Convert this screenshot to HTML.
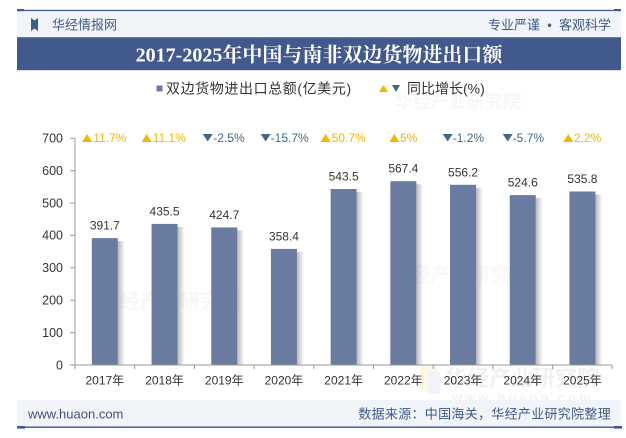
<!DOCTYPE html>
<html>
<head>
<meta charset="utf-8">
<style>
  html,body{margin:0;padding:0;background:#fff;}
  body{width:626px;height:438px;overflow:hidden;}
  svg{display:block;}
  .cjk{font-family:"Liberation Sans","Noto Sans CJK SC",sans-serif;}
  .num{font-family:"Liberation Sans","Noto Sans CJK SC",sans-serif;font-size:12px;fill:#333;}
</style>
</head>
<body>
<svg width="626" height="438" viewBox="0 0 626 438" xmlns="http://www.w3.org/2000/svg">
  <defs>
    <linearGradient id="sh" x1="0" y1="0" x2="1" y2="0">
      <stop offset="0" stop-color="#000" stop-opacity="0.28"/>
      <stop offset="1" stop-color="#000" stop-opacity="0"/>
    </linearGradient>
  </defs>
  <rect x="0" y="0" width="626" height="438" fill="#fff"/>

  <!-- watermarks -->
  <g opacity="0.45">
    <text x="445" y="386" class="cjk" font-size="22" font-weight="bold" fill="#e2e2e2">华经产业研究院</text>
    <text x="452" y="402" font-family="Liberation Sans, sans-serif" font-size="13" font-weight="bold" letter-spacing="3" fill="#e4e4e4">www.huaon.com</text>
    <rect x="420" y="365" width="18" height="26" fill="#fbefc8"/>
    <rect x="428" y="372" width="12" height="22" fill="#dfe8f4"/>
    <text x="395" y="108" class="cjk" font-size="18" font-weight="bold" fill="#eeeeee">华经产业研究院</text>
    <text x="100" y="308" class="cjk" font-size="20" font-weight="bold" fill="#eeeeee">华经产业研究院</text>
    <text x="390" y="282" class="cjk" font-size="20" font-weight="bold" fill="#f0f0f0">华经产业研究院</text>
  </g>

  <!-- top rule -->
  <rect x="17" y="9.8" width="604" height="1.4" fill="#3f5a8e"/>
  <rect x="17" y="9" width="7" height="3" fill="#3f5a8e"/>
  <rect x="614" y="9" width="7" height="3" fill="#3f5a8e"/>
  <!-- header band -->
  <rect x="17" y="11.2" width="604" height="26" fill="#f1f4f9"/>
  <path d="M31,18 L34.5,20.5 L38,18 L38,31 L34.5,28.5 L31,31 Z" fill="#3f5a8e"/>
  <text x="52" y="29.5" class="cjk" font-size="13" fill="#3f5a8e">华经情报网</text>
  <text x="611" y="29.5" class="cjk" font-size="13" fill="#3f5a8e" text-anchor="end" style="white-space:pre" xml:space="preserve">专业严谨  •  客观科学</text>
  <!-- title band -->
  <rect x="17" y="37.2" width="604" height="33" fill="#41598c"/>
  <text x="319" y="61.5" font-family="Liberation Serif, 'Noto Serif CJK SC', serif" font-size="20" font-weight="bold" fill="#fff" text-anchor="middle">2017-2025年中国与南非双边货物进出口额</text>

  <!-- legend -->
  <rect x="156.5" y="85.5" width="6" height="6" fill="#6a7ba2"/>
  <text x="166" y="93.5" class="cjk" font-size="14" letter-spacing="0.6" fill="#333">双边货物进出口总额(亿美元)</text>
  <polygon points="379,92 383.5,85 388,92" fill="#f5b400"/>
  <polygon points="392,85 400,85 396,92" fill="#3f6985"/>
  <text x="407" y="93.5" class="cjk" font-size="14" fill="#333">同比增长(%)</text>

  <!-- y axis -->
  <g stroke="#999" stroke-width="1">
    <line x1="75" y1="138" x2="75" y2="365"/>
    <line x1="70" y1="365" x2="75" y2="365"/>
    <line x1="70" y1="332.6" x2="75" y2="332.6"/>
    <line x1="70" y1="300.2" x2="75" y2="300.2"/>
    <line x1="70" y1="267.8" x2="75" y2="267.8"/>
    <line x1="70" y1="235.4" x2="75" y2="235.4"/>
    <line x1="70" y1="203.0" x2="75" y2="203.0"/>
    <line x1="70" y1="170.7" x2="75" y2="170.7"/>
    <line x1="70" y1="138.3" x2="75" y2="138.3"/>
  </g>
  <g class="num" text-anchor="end" style="font-size:12.5px">
    <text x="63" y="369.3">0</text>
    <text x="63" y="336.9">100</text>
    <text x="63" y="304.5">200</text>
    <text x="63" y="272.1">300</text>
    <text x="63" y="239.7">400</text>
    <text x="63" y="207.3">500</text>
    <text x="63" y="175.0">600</text>
    <text x="63" y="142.6">700</text>
  </g>

  <!-- bars -->
  <g>
    <rect x="117.85" y="241.1" width="7" height="123.9" fill="url(#sh)"/>
    <rect x="177.55" y="226.9" width="7" height="138.1" fill="url(#sh)"/>
    <rect x="237.25" y="230.4" width="7" height="134.6" fill="url(#sh)"/>
    <rect x="296.95" y="251.9" width="7" height="113.1" fill="url(#sh)"/>
    <rect x="356.65" y="192.0" width="7" height="173.0" fill="url(#sh)"/>
    <rect x="416.35" y="184.2" width="7" height="180.8" fill="url(#sh)"/>
    <rect x="476.05" y="187.8" width="7" height="177.2" fill="url(#sh)"/>
    <rect x="535.75" y="198.1" width="7" height="166.9" fill="url(#sh)"/>
    <rect x="595.45" y="194.5" width="7" height="170.5" fill="url(#sh)"/>
  </g>
  <g fill="#6a7ba2">
    <rect x="91.85" y="238.1" width="26" height="126.9"/>
    <rect x="151.55" y="223.9" width="26" height="141.1"/>
    <rect x="211.25" y="227.4" width="26" height="137.6"/>
    <rect x="270.95" y="248.9" width="26" height="116.1"/>
    <rect x="330.65" y="189.0" width="26" height="176.0"/>
    <rect x="390.35" y="181.2" width="26" height="183.8"/>
    <rect x="450.05" y="184.8" width="26" height="180.2"/>
    <rect x="509.75" y="195.1" width="26" height="169.9"/>
    <rect x="569.45" y="191.5" width="26" height="173.5"/>
  </g>

  <!-- x axis -->
  <g stroke="#999" stroke-width="1">
    <line x1="75" y1="365" x2="612" y2="365"/>
    <line x1="75" y1="365" x2="75" y2="369"/>
    <line x1="134.7" y1="365" x2="134.7" y2="369"/>
    <line x1="194.4" y1="365" x2="194.4" y2="369"/>
    <line x1="254.1" y1="365" x2="254.1" y2="369"/>
    <line x1="313.8" y1="365" x2="313.8" y2="369"/>
    <line x1="373.5" y1="365" x2="373.5" y2="369"/>
    <line x1="433.2" y1="365" x2="433.2" y2="369"/>
    <line x1="492.9" y1="365" x2="492.9" y2="369"/>
    <line x1="552.6" y1="365" x2="552.6" y2="369"/>
    <line x1="612" y1="365" x2="612" y2="369"/>
  </g>
  <g class="num" text-anchor="middle">
    <text x="104.85" y="384.5">2017年</text>
    <text x="164.55" y="384.5">2018年</text>
    <text x="224.25" y="384.5">2019年</text>
    <text x="283.95" y="384.5">2020年</text>
    <text x="343.65" y="384.5">2021年</text>
    <text x="403.35" y="384.5">2022年</text>
    <text x="463.05" y="384.5">2023年</text>
    <text x="522.75" y="384.5">2024年</text>
    <text x="582.45" y="384.5">2025年</text>
  </g>

  <!-- value labels -->
  <g class="num" text-anchor="middle">
    <text x="104.85" y="229.6">391.7</text>
    <text x="164.55" y="215.4">435.5</text>
    <text x="224.25" y="218.9">424.7</text>
    <text x="283.95" y="240.4">358.4</text>
    <text x="343.65" y="180.5">543.5</text>
    <text x="403.35" y="172.7">567.4</text>
    <text x="463.05" y="176.3">556.2</text>
    <text x="522.75" y="186.6">524.6</text>
    <text x="582.45" y="183.0">535.8</text>
  </g>

  <!-- growth labels -->
  <g font-family="Liberation Sans, sans-serif" font-size="12">
    <polygon points="82,142 87,134 92,142" fill="#f5b400"/>
    <text x="93.3" y="142" fill="#f5b400">11.7%</text>
    <polygon points="141.7,142 146.7,134 151.7,142" fill="#f5b400"/>
    <text x="152.7" y="142" fill="#f5b400">11.1%</text>
    <polygon points="202.7,134 212.7,134 207.7,141.5" fill="#3f6985"/>
    <text x="213.3" y="142" fill="#3f6985">-2.5%</text>
    <polygon points="260.7,134 270.7,134 265.7,141.5" fill="#3f6985"/>
    <text x="270.7" y="142" fill="#3f6985">-15.7%</text>
    <polygon points="320.7,142 325.7,134 330.7,142" fill="#f5b400"/>
    <text x="331.7" y="142" fill="#f5b400">50.7%</text>
    <polygon points="389.3,142 394.3,134 399.3,142" fill="#f5b400"/>
    <text x="400" y="142" fill="#f5b400">5%</text>
    <polygon points="442.7,134 452.7,134 447.7,141.5" fill="#3f6985"/>
    <text x="452.7" y="142" fill="#3f6985">-1.2%</text>
    <polygon points="502.7,134 512.7,134 507.7,141.5" fill="#3f6985"/>
    <text x="512.7" y="142" fill="#3f6985">-5.7%</text>
    <polygon points="563.3,142 568.3,134 573.3,142" fill="#f5b400"/>
    <text x="574" y="142" fill="#f5b400">2.2%</text>
  </g>

  <!-- footer -->
  <rect x="17" y="400" width="604" height="26.5" fill="#f1f4f9"/>
  <text x="28" y="418.3" font-family="Liberation Sans, sans-serif" font-size="13" fill="#41507a">www.huaon.com</text>
  <text x="611" y="418.3" class="cjk" font-size="13" letter-spacing="0.3" fill="#3f5a8e" text-anchor="end">数据来源：中国海关，华经产业研究院整理</text>
  <rect x="17" y="426.5" width="604" height="1.4" fill="#3f5a8e"/>
  <rect x="17" y="426" width="8" height="2.6" fill="#3f5a8e"/>
  <rect x="614" y="426" width="8" height="2.6" fill="#3f5a8e"/>
</svg>
</body>
</html>
